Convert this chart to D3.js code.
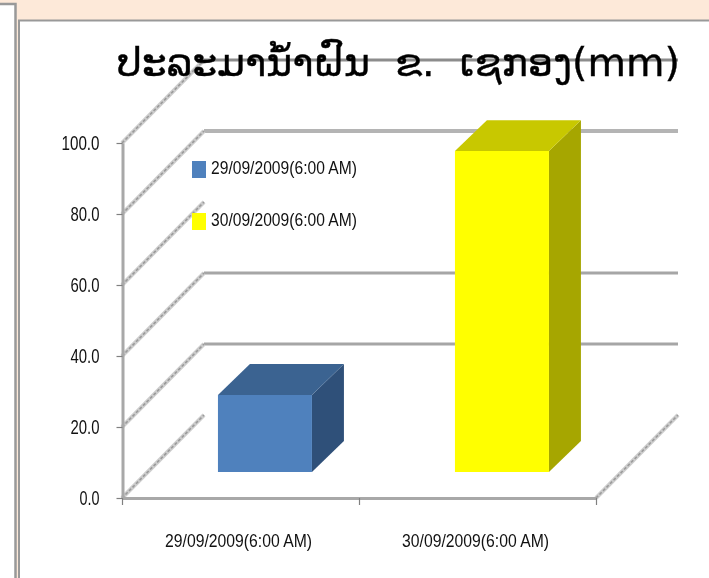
<!DOCTYPE html>
<html>
<head>
<meta charset="utf-8">
<script src="https://cdn.jsdelivr.net/npm/d3@7"></script>
<style>
  body { margin: 0; background: #fff; }
  svg { display: block; filter: blur(0.4px); }
  text { font-family: "Liberation Sans", Arial, sans-serif; fill: #111; }
</style>
</head>
<body>
<div id="graph"></div>
<script>
// values
const categories = ["29/09/2009(6:00 AM)", "30/09/2009(6:00 AM)"];
const rainfall = [21.7, 90.4];
const frontColors = ["#4f81bd", "#ffff00"];
const topColors = ["#3b6391", "#c8c800"];
const sideColors = ["#2f5079", "#a6a600"];
const yTicks = [0, 20, 40, 60, 80, 100];
const gridValues = [100, 80, 40, 20];
const titleText = "ປະລະມານ້ໍາຝົນ  ຂ.  ເຊກອງ(mm)";

const width = 709, height = 578;

// floor/wall depth of the fake 3D box
const depth_x = 82, depth_y = 83;
// bars sit part way into that depth
const bar_start_x = 0.286, bar_start_y = 0.313;
const bar_depth_x = 0.39, bar_depth_y = 0.373;

const chart = d3.select("#graph")
  .append("svg")
  .attr("width", width)
  .attr("height", height);

// Page behind the chart (slide background and panel borders)
chart.append("rect").attr("width", width).attr("height", height).attr("fill", "#fde9d9");
chart.append("rect").attr("x", -4).attr("y", 4).attr("width", 19.5).attr("height", height)
  .attr("fill", "#fff").attr("stroke", "#999").attr("stroke-width", 2.5);
chart.append("rect").attr("x", 19).attr("y", 20.5).attr("width", width + 10).attr("height", height)
  .attr("fill", "#fff").attr("stroke", "#999").attr("stroke-width", 2);

const y = d3.scaleLinear().domain([0, 100]).range([498, 143]);
const x = d3.scaleBand().domain(categories).range([123, 597]);
const edges = d3.scaleLinear().domain([0, categories.length]).range([122, 596]);

// Back wall gridlines
chart.append("g").selectAll("line")
  .data(gridValues)
  .join("line")
  .attr("x1", 204)
  .attr("x2", 678)
  .attr("y1", d => y(d) - depth_y)
  .attr("y2", d => y(d) - depth_y)
  .attr("stroke", d => d === 100 ? "#8c8c8c" : d === 80 ? "#b4b4b4" : "#a6a6a6")
  .attr("stroke-width", d => d === 80 ? 4 : 3);

// Side wall diagonals, one for each tick, plus the right edge of the floor
const diagonals = yTicks.map(d => ({x0: edges(0), y0: y(d)}))
  .concat([{x0: edges(categories.length), y0: y(0)}]);

const diag = chart.append("g");
diag.selectAll("line.base")
  .data(diagonals)
  .join("line")
  .attr("class", "base")
  .attr("x1", d => d.x0)
  .attr("y1", d => d.y0)
  .attr("x2", d => d.x0 + depth_x)
  .attr("y2", d => d.y0 - depth_y)
  .attr("stroke", "#cdcdcd")
  .attr("stroke-width", 4);
diag.selectAll("line.dash")
  .data(diagonals)
  .join("line")
  .attr("class", "dash")
  .attr("x1", d => d.x0)
  .attr("y1", d => d.y0)
  .attr("x2", d => d.x0 + depth_x)
  .attr("y2", d => d.y0 - depth_y)
  .attr("stroke", "#9a9a9a")
  .attr("stroke-width", 1.6)
  .attr("stroke-dasharray", "3 2");

// Axes
const y_axis = chart.append("g")
  .attr("transform", "translate(122.5,0)")
  .call(d3.axisLeft(y).tickValues(yTicks).tickFormat(d3.format(".1f")).tickSize(6).tickSizeOuter(0).tickPadding(17));
y_axis.select(".domain").attr("stroke", "#a8a8a8").attr("stroke-width", 3);
y_axis.selectAll(".tick line").attr("stroke", "#808080").attr("stroke-width", 1.2);
y_axis.selectAll("text")
  .style("font-size", "20px")
  .attr("textLength", d => d === 100 ? 38 : d === 0 ? 20 : 29)
  .attr("lengthAdjust", "spacingAndGlyphs");

const x_edges = chart.append("g")
  .attr("transform", "translate(0,498)")
  .call(d3.axisBottom(edges).tickValues(d3.range(categories.length + 1)).tickFormat("").tickSize(7).tickSizeOuter(0));
x_edges.select(".domain").attr("stroke", "#a8a8a8").attr("stroke-width", 3);
x_edges.selectAll(".tick line").attr("stroke", "#808080").attr("stroke-width", 1.2);

const x_labels = chart.append("g")
  .attr("transform", "translate(-3,498)")
  .call(d3.axisBottom(x).tickSize(0).tickPadding(36));
x_labels.select(".domain").remove();
x_labels.selectAll("text")
  .style("font-size", "19px")
  .attr("textLength", 147)
  .attr("lengthAdjust", "spacingAndGlyphs");

// Bars: front, top and side faces
const bar_data = categories.map((c, i) => ({name: c, value: rainfall[i], i: i}));
const bar_w = 94;

function bar_box(d) {
  let x0 = x(d.name) + (x.bandwidth() - bar_w) / 2 + bar_start_x * depth_x;
  let shift = bar_start_y * depth_y;
  return {
    x0: x0,
    x1: x0 + bar_w,
    y0: y(0) - shift,
    y1: y(d.value) - shift,
    dx: bar_depth_x * depth_x,
    dy: bar_depth_y * depth_y
  };
}

function to_points(pts) {
  return pts.map(p => p.join(",")).join(" ");
}

const bars = chart.append("g").selectAll("g")
  .data(bar_data)
  .join("g");

bars.append("polygon")
  .attr("fill", d => sideColors[d.i])
  .attr("points", d => {
    let b = bar_box(d);
    return to_points([[b.x1, b.y0], [b.x1, b.y1], [b.x1 + b.dx, b.y1 - b.dy], [b.x1 + b.dx, b.y0 - b.dy]]);
  });
bars.append("polygon")
  .attr("fill", d => topColors[d.i])
  .attr("points", d => {
    let b = bar_box(d);
    return to_points([[b.x0, b.y1], [b.x1, b.y1], [b.x1 + b.dx, b.y1 - b.dy], [b.x0 + b.dx, b.y1 - b.dy]]);
  });
bars.append("polygon")
  .attr("fill", d => frontColors[d.i])
  .attr("points", d => {
    let b = bar_box(d);
    return to_points([[b.x0, b.y0], [b.x1, b.y0], [b.x1, b.y1], [b.x0, b.y1]]);
  });

// Legend
const legend = chart.append("g").selectAll("g")
  .data(bar_data)
  .join("g")
  .attr("transform", d => "translate(192," + (161 + d.i * 52) + ")");
legend.append("rect")
  .attr("width", 14)
  .attr("height", 17)
  .attr("fill", d => frontColors[d.i]);
legend.append("text")
  .attr("x", 19)
  .attr("y", 13)
  .style("font-size", "19px")
  .attr("textLength", 146)
  .attr("lengthAdjust", "spacingAndGlyphs")
  .text(d => d.name);

// Title sits over the top gridline
chart.append("text")
  .attr("x", 117)
  .attr("y", 76)
  .style("font-family", "'DejaVu Sans'")
  .style("font-size", "39.5px")
  .style("fill", "#000")
  .style("stroke", "#000")
  .style("stroke-width", "0.4px")
  .style("white-space", "pre")
  .text(titleText);
</script>
</body>
</html>
